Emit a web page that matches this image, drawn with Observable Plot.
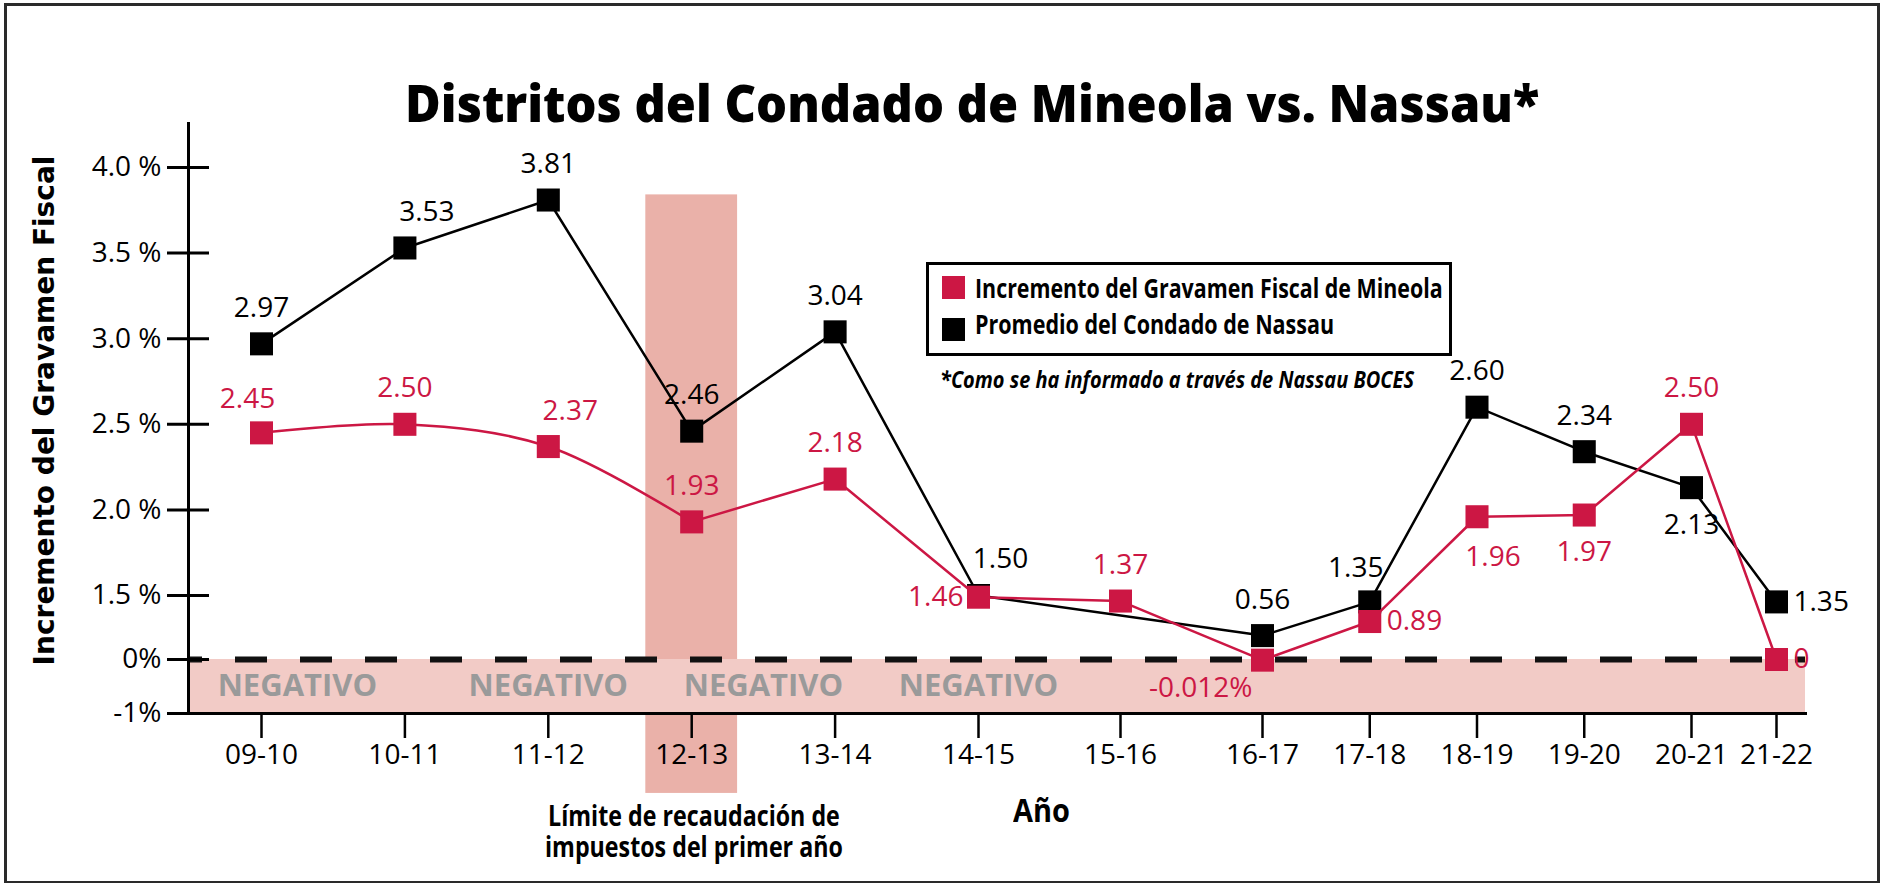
<!DOCTYPE html>
<html>
<head>
<meta charset="utf-8">
<script src="https://cdn.jsdelivr.net/npm/d3@7"></script>
<script src="https://cdn.jsdelivr.net/npm/@observablehq/plot@0.6"></script>
<style>
html, body { margin: 0; padding: 0; background: #fff; }
#wrap { position: relative; width: 1890px; height: 883px; overflow: hidden; background: #fff; }
#wrap svg { position: absolute; left: 0; top: 0; }
#border { position: absolute; left: 4px; top: 3px; width: 1876px; height: 881px; border: 3px solid #2a2a2a; box-sizing: border-box; }
.t { position: absolute; white-space: nowrap; line-height: 0.9; transform-origin: 0 0; font-family: "Open Sans", sans-serif; color: #000; }
#legend { position: absolute; left: 926px; top: 262px; width: 526px; height: 94px; border: 3px solid #000; box-sizing: border-box; background: #fff; }
.sw { position: absolute; width: 23px; height: 23px; }
</style>
</head>
<body>
<div id="wrap">
  <div id="border"></div>
  <div id="chart"></div>
  <div class="t fit" data-cx="972" data-w="1134" data-base="123" style="font-size:52px;font-weight:800">Distritos del Condado de Mineola vs. Nassau*</div>
  <div id="legend"></div>
  <div class="sw" style="left:942px;top:276px;background:#cc1744"></div>
  <div class="sw" style="left:942px;top:318px;background:#000"></div>
  <div class="t fit" data-left="975" data-w="468" data-base="299" style="font-size:26px;font-weight:700">Incremento del Gravamen Fiscal de Mineola</div>
  <div class="t fit" data-left="975" data-w="359" data-base="335" style="font-size:26px;font-weight:700">Promedio del Condado de Nassau</div>
  <div class="t fit" data-left="940" data-w="474" data-base="388" style="font-size:23px;font-weight:700;font-style:italic">*Como se ha informado a través de Nassau BOCES</div>
  <div class="t fit" data-cx="694" data-w="298" data-base="826" style="font-size:29px;font-weight:700;line-height:31px;text-align:center">Límite de recaudación de<br>impuestos del primer año</div>
  <div class="t fit" data-cx="1041" data-w="57" data-base="823" style="font-size:32px;font-weight:700">Año</div>
</div>
<script>
// ---------- data ----------
const years = ["09-10","10-11","11-12","12-13","13-14","14-15","15-16","16-17","17-18","18-19","19-20","20-21","21-22"];
const mineola = [2.45, 2.50, 2.37, 1.93, 2.18, 1.46, 1.37, -0.012, 0.89, 1.96, 1.97, 2.50, 0];
const nassau  = [2.97, 3.53, 3.81, 2.46, 3.04, 1.50, null, 0.56, 1.35, 2.60, 2.34, 2.13, 1.35];
const mineolaText = ["2.45","2.50","2.37","1.93","2.18","1.46","1.37","-0.012%","0.89","1.96","1.97","2.50","0"];
const nassauText  = ["2.97","3.53","3.81","2.46","3.04","1.50",null,"0.56","1.35","2.60","2.34","2.13","1.35"];
const yTicks     = [4.0, 3.5, 3.0, 2.5, 2.0, 1.5, 0, -1];
const yTickText  = ["4.0 %","3.5 %","3.0 %","2.5 %","2.0 %","1.5 %","0%","-1%"];
const negativeText = "NEGATIVO";
const negativeAt = [0.25, 2, 3.5, 5];
const highlightYear = "12-13";
const yTitle = "Incremento del Gravamen Fiscal";

// ---------- layout / style ----------
const RED = "#cc1744";
const mineolaPlace = ["nw","n","ne","n","n","w","n","sw","e","se","s","n","e"];
const nassauPlace  = ["n","ne","n","n","n","ne",null,"n","nw","n","n","s","e"];
const place = {
  n:  {dx: 0,   dy: -36, textAnchor: "middle"},
  ne: {dx: 22,  dy: -36, textAnchor: "middle"},
  nw: {dx: -14, dy: -34, textAnchor: "middle"},
  s:  {dx: 0,   dy: 37,  textAnchor: "middle"},
  se: {dx: 16,  dy: 40,  textAnchor: "middle"},
  e:  {dx: 17,  dy: 0,   textAnchor: "start"},
  w:  {dx: -15, dy: 0,   textAnchor: "end"},
  sw: {dx: -10, dy: 28,  textAnchor: "end"}
};

const rows = (vals, texts, places) =>
  years.map((year, i) => ({i, year, v: vals[i], t: texts[i], p: places[i]})).filter(d => d.v != null);
const redRows = rows(mineola, mineolaText, mineolaPlace);
const blackRows = rows(nassau, nassauText, nassauPlace);
const hi = years.indexOf(highlightYear);

const labels = (data, color) => Object.entries(place).map(([k, o]) =>
  Plot.text(data.filter(d => d.p === k), {x: "i", y: "v", text: "t", fill: color, fontSize: 28, ...o}));

const chart = Plot.plot({
  width: 1890,
  height: 883,
  marginLeft: 188,
  marginRight: 85,
  marginTop: 123,
  marginBottom: 170,
  style: {fontFamily: '"Open Sans", sans-serif', fontSize: "28px", color: "#000", background: "transparent", overflow: "visible"},
  x: {type: "linear", domain: [0, 5, 7, 11, 12], range: [261, 978, 1262, 1691, 1776]},
  y: {type: "linear", domain: [-1, 0, 1.5, 4], range: [713, 659, 595, 167]},
  marks: [
    Plot.rect([0], {x1: () => hi - 0.32, x2: () => hi + 0.32, y1: () => -2.48, y2: () => 3.84, fill: "#eab1a9"}),
    Plot.rect([0], {y1: () => -1, y2: () => 0, fill: "#f2cbc6"}),
    Plot.text(negativeAt, {x: d => d, y: () => -0.5, text: () => negativeText, fill: "#9a9a9a", fontWeight: "bold", fontSize: 31}),
    Plot.ruleY([0], {stroke: "#111", strokeWidth: 6, strokeDasharray: "32,33", strokeDashoffset: 18}),
    Plot.frame({anchor: "left", strokeWidth: 3, stroke: "#000"}),
    Plot.frame({anchor: "bottom", strokeWidth: 3, stroke: "#000"}),
    Plot.axisY({ticks: yTicks, tickFormat: v => yTickText[yTicks.indexOf(v)], tickSize: 42, dx: 21, tickPadding: 6, strokeWidth: 3, fontSize: 28, label: null}),
    Plot.axisX({ticks: d3.range(years.length), tickFormat: i => years[i], tickSize: 25, tickPadding: 6, strokeWidth: 2.5, fontSize: 28, label: null}),
    Plot.line(blackRows, {x: "i", y: "v", stroke: "#000", strokeWidth: 2.5}),
    Plot.dot(blackRows, {x: "i", y: "v", symbol: "square", r: 13, fill: "#000"}),
    Plot.line(redRows.filter(d => d.i <= 3), {x: "i", y: "v", stroke: RED, strokeWidth: 2.5, curve: "catmull-rom"}),
    Plot.line(redRows.filter(d => d.i >= 3), {x: "i", y: "v", stroke: RED, strokeWidth: 2.5}),
    Plot.dot(redRows, {x: "i", y: "v", symbol: "square", r: 13, fill: RED}),
    ...labels(blackRows, "#000"),
    ...labels(redRows, RED),
    Plot.text([yTitle], {frameAnchor: "left", textAnchor: "middle", rotate: -90, dx: -143, dy: -8, fontFamily: "DejaVu Sans", fontWeight: "bold", fontSize: 28, fill: "#000"})
  ]
});
document.getElementById("chart").appendChild(chart);

function fit() {
  document.querySelectorAll(".fit").forEach(el => {
    const fs = parseFloat(el.style.fontSize);
    const lh = parseFloat(getComputedStyle(el).lineHeight) || 0.9 * fs;
    const off = (lh - 1.362 * fs) / 2 + 1.069 * fs;
    const w = +el.dataset.w;
    el.style.transform = "none";
    const nat = el.offsetWidth;
    const left = el.dataset.cx !== undefined ? +el.dataset.cx - w / 2 : +el.dataset.left;
    el.style.left = left + "px";
    el.style.top = (+el.dataset.base - off) + "px";
    el.style.transform = `scaleX(${w / nat})`;
  });
}
fit();
if (document.fonts && document.fonts.ready) document.fonts.ready.then(fit);
</script>
</body>
</html>
